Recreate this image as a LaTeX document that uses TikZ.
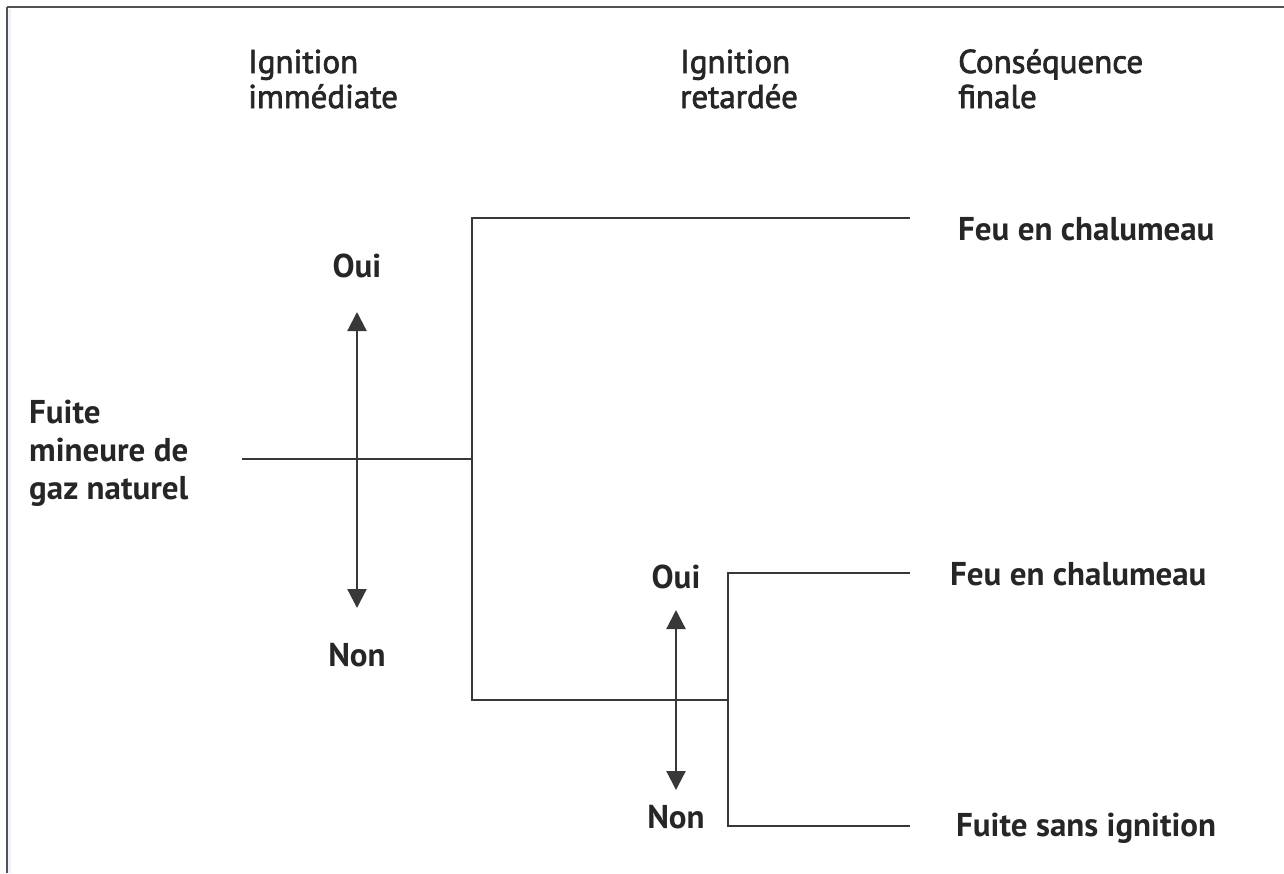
\documentclass[tikz,border=0pt]{standalone}
\usepackage{fontspec}
\setmainfont{PT Sans}
\usetikzlibrary{arrows.meta}
% regular text drawn with a slight outline, for a book-like weight
\newcommand{\bookweight}[1]{\special{pdf:literal direct 2 Tr 0.7 w}#1\special{pdf:literal direct 0 Tr}}
\tikzset{
  frame/.style={draw=black!68, line width=1.5pt},
  branch/.style={draw=black!78, line width=2.4pt, line cap=butt, line join=miter},
  choice/.style={draw=black!78, line width=2.2pt, {Triangle[width=19pt,length=19pt]}-{Triangle[width=19pt,length=19pt]}},
  header/.style={anchor=base west, inner sep=0pt, align=left, text=black!85,
    font=\fontsize{33}{35}\selectfont},
  outcome/.style={anchor=base west, inner sep=0pt, align=left, text=black!85,
    font=\fontsize{33}{38}\selectfont\bfseries},
  answer/.style={anchor=base, inner sep=0pt, text=black!85,
    font=\fontsize{33}{36}\selectfont\bfseries}
}
\begin{document}
\begin{tikzpicture}[x=1pt, y=-1pt]
  \useasboundingbox (0,0) rectangle (1284,873);
  % page frame: top and left rules
  \draw[line width=3pt, draw=blue!6] (9.5,9) -- (9.5,873);
  \draw[frame] (7,7) -- (1284,7);
  \draw[frame] (7,7) -- (7,873);

  % column headers (anchored on the baseline of their last line)
  \node[header] (h1) at (248,108) {\bookweight{Ignition}\\\bookweight{immédiate}};
  \node[header] (h2) at (680,108) {\bookweight{Ignition}\\\bookweight{retardée}};
  \node[header] (h3) at (958,108) {\bookweight{Conséquence}\\\bookweight{finale}};

  % initiating event
  \node[outcome] (root) at (29,499) {Fuite\\mineure de\\gaz naturel};

  % final consequences
  \node[outcome] (c1) at (958,240) {Feu en chalumeau};
  \node[outcome] (c2) at (950,585) {Feu en chalumeau};
  \node[outcome] (c3) at (956,836) {Fuite sans ignition};

  % branch answers
  \node[answer] (oui1) at (357,277) {Oui};
  \node[answer] (non1) at (357,666) {Non};
  \node[answer] (oui2) at (676,588) {Oui};
  \node[answer] (non2) at (676,828) {Non};

  % tree junctions and ends
  \coordinate (r0) at (242,459);
  \coordinate (j1) at (472,459);
  \coordinate (t1) at (472,218);
  \coordinate (e1) at (910,218);
  \coordinate (b1) at (472,700);
  \coordinate (j2) at (728,700);
  \coordinate (t2) at (728,573);
  \coordinate (e2) at (910,573);
  \coordinate (b2) at (728,826);
  \coordinate (e3) at (910,826);

  % first event: immediate ignition
  \draw[branch] (r0) -- (j1);
  \draw[branch] (e1) -- (t1) -- (b1) -- (j2);
  % second event: delayed ignition
  \draw[branch] (e2) -- (t2) -- (b2) -- (e3);

  % yes/no double arrows
  \coordinate (a1u) at (357,312);
  \coordinate (a1d) at (357,608);
  \coordinate (a2u) at (676,610);
  \coordinate (a2d) at (676,790);
  \draw[choice] (a1u) -- (a1d);
  \draw[choice] (a2u) -- (a2d);
\end{tikzpicture}
\end{document}
